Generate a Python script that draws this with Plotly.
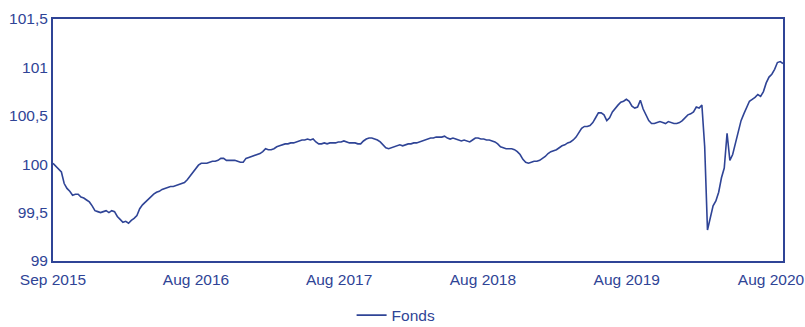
import pandas as pd
import plotly.graph_objects as go

# Weekly fund index values, Sep 2015 - Sep 2020
start_date = "2015-09-01"
fonds = [
    100.01, 99.98, 99.96, 99.92, 99.80, 99.75, 99.72, 99.68, 99.69, 99.69,
    99.66, 99.65, 99.63, 99.61, 99.57, 99.52, 99.51, 99.50, 99.51, 99.52,
    99.50, 99.52, 99.51, 99.46, 99.43, 99.40, 99.41, 99.39, 99.42, 99.44,
    99.47, 99.54, 99.58, 99.61, 99.64, 99.66, 99.69, 99.71, 99.72, 99.74,
    99.75, 99.76, 99.77, 99.77, 99.78, 99.79, 99.80, 99.81, 99.84, 99.88,
    99.91, 99.95, 99.99, 100.01, 100.01, 100.01, 100.02, 100.03, 100.03, 100.04,
    100.06, 100.06, 100.04, 100.04, 100.04, 100.04, 100.03, 100.02, 100.02, 100.06,
    100.07, 100.08, 100.09, 100.10, 100.11, 100.13, 100.16, 100.15, 100.15, 100.16,
    100.18, 100.19, 100.20, 100.21, 100.21, 100.22, 100.22, 100.23, 100.24, 100.25,
    100.25, 100.26, 100.25, 100.26, 100.23, 100.21, 100.21, 100.22, 100.21, 100.22,
    100.22, 100.22, 100.23, 100.23, 100.24, 100.23, 100.22, 100.22, 100.22, 100.21,
    100.21, 100.24, 100.26, 100.27, 100.27, 100.26, 100.25, 100.23, 100.20, 100.17,
    100.16, 100.17, 100.18, 100.19, 100.20, 100.19, 100.20, 100.21, 100.21, 100.22,
    100.22, 100.23, 100.24, 100.25, 100.26, 100.27, 100.27, 100.28, 100.28, 100.28,
    100.29, 100.27, 100.26, 100.27, 100.26, 100.25, 100.24, 100.25, 100.24, 100.23,
    100.25, 100.27, 100.27, 100.26, 100.26, 100.25, 100.25, 100.24, 100.23, 100.21,
    100.18, 100.17, 100.16, 100.16, 100.16, 100.15, 100.13, 100.10, 100.05, 100.02,
    100.01, 100.02, 100.03, 100.03, 100.04, 100.06, 100.08, 100.11, 100.13, 100.14,
    100.15, 100.17, 100.19, 100.20, 100.22, 100.23, 100.25, 100.28, 100.33, 100.37,
    100.39, 100.39, 100.40, 100.43, 100.48, 100.53, 100.53, 100.51, 100.45, 100.48,
    100.54, 100.58, 100.61, 100.64, 100.65, 100.67, 100.65, 100.60, 100.58, 100.59,
    100.66, 100.57, 100.51, 100.45, 100.42, 100.42, 100.43, 100.44, 100.43, 100.42,
    100.44, 100.43, 100.42, 100.42, 100.43, 100.45, 100.48, 100.51, 100.52, 100.54,
    100.59, 100.58, 100.61, 100.18, 99.32, 99.46, 99.57, 99.62, 99.71, 99.86,
    99.96, 100.32, 100.04, 100.10, 100.22, 100.36, 100.45, 100.52, 100.59, 100.65,
    100.67, 100.69, 100.72, 100.70, 100.75, 100.84, 100.90, 100.93, 100.98, 101.05,
    101.06, 101.04,
]
dates = pd.date_range(start_date, periods=len(fonds), freq="7D")

tick_dates = ["2015-09-01", "2016-08-24", "2017-08-17", "2018-08-12", "2019-08-07", "2020-08-02"]
tick_labels = ["Sep 2015", "Aug 2016", "Aug 2017", "Aug 2018", "Aug 2019", "Aug 2020"]
y_ticks = [99, 99.5, 100, 100.5, 101, 101.5]

blue = "#2f4496"
font = dict(family="Liberation Sans, Arial, sans-serif", size=15.5, color=blue)

fig = go.Figure()
fig.add_trace(go.Scatter(
    x=dates, y=fonds, mode="lines", name="Fonds",
    line=dict(color=blue, width=1.6),
))

fig.update_layout(
    width=805, height=327,
    margin=dict(l=53, r=22, t=19, b=66, autoexpand=False),
    paper_bgcolor="white", plot_bgcolor="white",
    separators=",.",
    font=font,
    showlegend=True,
    legend=dict(orientation="h", x=0.47, xanchor="center",
                yref="container", y=0.035, yanchor="middle",
                font=font),
)
fig.update_xaxes(
    range=[dates[0], dates[-1]],
    tickvals=tick_dates, ticktext=tick_labels,
    showgrid=False, zeroline=False,
    showline=True, linecolor=blue, linewidth=2, mirror=True,
    ticks="", tickfont=font, automargin=False, ticklabelstandoff=3,
)
fig.update_yaxes(
    range=[99, 101.5], tickvals=y_ticks,
    showgrid=False, zeroline=False,
    showline=True, linecolor=blue, linewidth=2, mirror=True,
    ticks="", tickfont=font, automargin=False,
)

fig.write_html("out.html")
